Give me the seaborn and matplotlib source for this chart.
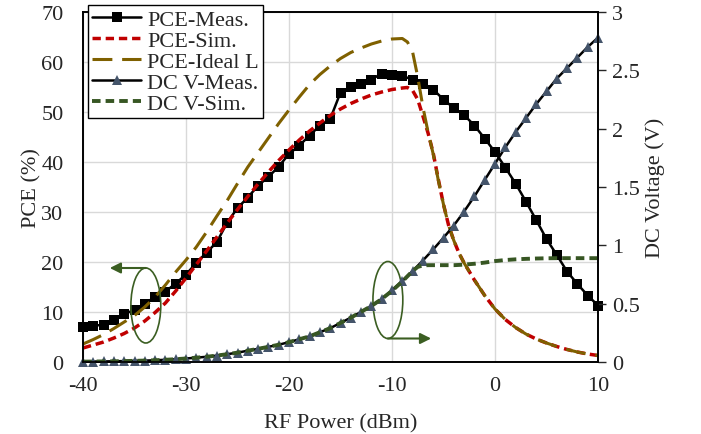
import numpy as np
import pandas as pd
import matplotlib
matplotlib.use("Agg")
import matplotlib.pyplot as plt
import seaborn as sns
from matplotlib.patches import Ellipse
from matplotlib.ticker import FuncFormatter, MultipleLocator

# ---------------- data ----------------
rf_meas = list(range(-40, 11))
pce_meas = [7.1, 7.3, 7.4, 8.5, 9.6, 10.4, 11.7, 13.0, 14.1, 15.7, 17.5,
            19.8, 21.9, 24.0, 27.9, 30.8, 32.9, 35.3, 37.0, 39.1, 41.6,
            43.3, 45.3, 47.3, 48.6, 53.9, 55.0, 55.7, 56.5, 57.7, 57.5,
            57.2, 56.5, 55.7, 54.5, 52.5, 50.8, 49.4, 47.3, 44.7, 42.0,
            38.9, 35.7, 32.1, 28.4, 24.6, 21.4, 18.1, 15.6, 13.3, 11.3]
dcv_meas = [0.003, 0.004, 0.005, 0.006, 0.008, 0.010, 0.012, 0.015, 0.019, 0.024, 0.030,
            0.037, 0.045, 0.055, 0.067, 0.080, 0.097, 0.113, 0.130, 0.148, 0.170,
            0.195, 0.220, 0.255, 0.290, 0.335, 0.380, 0.430, 0.480, 0.540, 0.615,
            0.695, 0.780, 0.870, 0.965, 1.065, 1.170, 1.290, 1.420, 1.560, 1.700,
            1.840, 1.970, 2.090, 2.210, 2.320, 2.430, 2.520, 2.610, 2.700, 2.780]

rf_sim = [-40, -39, -38, -37, -36, -35, -34, -33, -32, -31, -30, -29, -28, -27, -26,
          -25, -24, -23, -22, -21, -20, -19, -18, -17, -16, -15, -14, -13, -12, -11,
          -10, -9, -8.5, -8, -7.5, -7, -6.5, -6, -5.5, -5, -4.5, -4, -3.5, -3, -2,
          -1, 0, 1, 2, 3, 4, 5, 6, 7, 8, 9, 10]
pce_sim = [2.8, 3.4, 4.0, 4.8, 5.7, 6.8, 8.2, 9.9, 11.8, 14.2, 16.8, 19.5, 22.2, 25.0, 27.8,
           30.5, 33.1, 35.6, 38.0, 40.3, 42.4, 44.4, 46.2, 47.8, 49.3, 50.6, 51.7, 52.6, 53.4, 54.0,
           54.5, 54.8, 54.9, 54.3, 52.5, 49.2, 45.8, 41.8, 36.5, 31.5, 27.3, 24.3, 21.8, 19.8, 16.4,
           13.3, 10.6, 8.5, 6.9, 5.6, 4.6, 3.8, 3.1, 2.5, 2.0, 1.6, 1.3]
pce_ideal = [3.6, 4.5, 5.5, 6.7, 8.0, 9.3, 11.0, 13.0, 15.4, 18.0, 20.4, 23.0, 26.0, 29.2, 32.3,
             35.7, 39.0, 41.9, 44.8, 47.7, 50.4, 53.0, 55.5, 57.5, 59.2, 60.7, 61.9, 62.8, 63.6, 64.2,
             64.6, 64.7, 64.0, 62.0, 57.0, 51.0, 46.0, 41.6, 36.3, 31.5, 27.3, 24.3, 21.8, 19.8, 16.4,
             13.3, 10.6, 8.5, 6.9, 5.6, 4.6, 3.8, 3.1, 2.5, 2.0, 1.6, 1.3]
dcv_sim = [0.003, 0.004, 0.005, 0.006, 0.008, 0.010, 0.012, 0.015, 0.019, 0.024, 0.030, 0.037, 0.045, 0.055, 0.067,
           0.080, 0.097, 0.113, 0.130, 0.148, 0.170, 0.195, 0.220, 0.255, 0.290, 0.335, 0.380, 0.430, 0.480, 0.540,
           0.610, 0.690, 0.735, 0.780, 0.815, 0.828, 0.830, 0.830, 0.830, 0.830, 0.830, 0.830, 0.832, 0.835, 0.842,
           0.852, 0.865, 0.874, 0.880, 0.884, 0.887, 0.889, 0.890, 0.890, 0.890, 0.890, 0.890]

df_meas = pd.DataFrame({"rf": rf_meas, "pce": pce_meas, "v": dcv_meas})
df_sim = pd.DataFrame({"rf": rf_sim, "pce": pce_sim, "ideal": pce_ideal, "v": dcv_sim})

# ---------------- style ----------------
sns.set_style("white")
plt.rcParams["font.family"] = ["Liberation Serif", "DejaVu Serif"]
plt.rcParams["font.size"] = 16
plt.rcParams["axes.unicode_minus"] = False

fig = plt.figure(figsize=(7.01, 4.35), dpi=100)
ax = fig.add_axes([83/701, 1-363/435, (598-83)/701, (363-13)/435])
ax2 = ax.twinx()

RED = "#c00000"
OLIVE = "#7f6000"
GREEN = "#375623"
SLATE = "#44546a"

sns.lineplot(data=df_meas, x="rf", y="pce", ax=ax, color="black", lw=1.8,
             marker="s", markersize=7.5, markeredgewidth=0, clip_on=False,
             label="PCE-Meas.", legend=False)
sns.lineplot(data=df_sim, x="rf", y="pce", ax=ax, color=RED, lw=2.5,
             label="PCE-Sim.", legend=False)
ax.lines[-1].set_linestyle((0, (2.4, 1.4)))
sns.lineplot(data=df_sim, x="rf", y="ideal", ax=ax, color=OLIVE, lw=2.2,
             label="PCE-Ideal L", legend=False)
ax.lines[-1].set_linestyle((0, (6.5, 3.2)))

sns.lineplot(data=df_meas, x="rf", y="v", ax=ax2, color="black", lw=1.8,
             marker="^", markersize=7, markerfacecolor=SLATE, markeredgewidth=0,
             clip_on=False, label="DC V-Meas.", legend=False)
sns.lineplot(data=df_sim, x="rf", y="v", ax=ax2, color=GREEN, lw=2.8,
             label="DC V-Sim.", legend=False)
ax2.lines[-1].set_linestyle((0, (2.2, 1.3)))

# axes
ax.set_xlim(-40, 10)
ax.set_ylim(0, 70)
ax2.set_ylim(0, 3)
ax.xaxis.set_major_locator(MultipleLocator(10))
ax.yaxis.set_major_locator(MultipleLocator(10))
ax2.yaxis.set_major_locator(MultipleLocator(0.5))
ax2.yaxis.set_major_formatter(FuncFormatter(lambda v, p: f"{v:g}"))
ax.grid(True, color="#d9d9d9", lw=1.0)
ax.set_axisbelow(True)
for a in (ax, ax2):
    for s in a.spines.values():
        s.set_color("black")
        s.set_linewidth(1.2)
ax.tick_params(axis="x", length=0, labelsize=16, pad=10)
ax.tick_params(axis="y", length=0, labelsize=16, pad=14)
ax2.tick_params(axis="y", length=6, width=1.0, direction="out", labelsize=16, pad=4)
ax.set_xlabel("RF Power (dBm)", fontsize=16, labelpad=13)
ax.set_ylabel("PCE (%)", fontsize=16, labelpad=0)
ax2.set_ylabel("DC Voltage (V)", fontsize=16, labelpad=4)

# annotations: ellipses with arrows
ec = "#3b5e22"
ax.add_patch(Ellipse((-33.9, 11.3), 2.9, 15.0, fill=False, ec=ec, lw=1.2, zorder=5))
ax.annotate("", xy=(-37.4, 18.8), xytext=(-33.9, 18.8),
            arrowprops=dict(arrowstyle="-|>", color=ec, lw=1.5, mutation_scale=16,
                            shrinkA=0, shrinkB=0), zorder=5)
ax.add_patch(Ellipse((-10.4, 12.4), 2.9, 15.4, fill=False, ec=ec, lw=1.2, zorder=5))
ax.annotate("", xy=(-6.2, 4.7), xytext=(-10.4, 4.7),
            arrowprops=dict(arrowstyle="-|>", color=ec, lw=1.5, mutation_scale=16,
                            shrinkA=0, shrinkB=0), zorder=5)

# legend
h1, l1 = ax.get_legend_handles_labels()
h2, l2 = ax2.get_legend_handles_labels()
leg = ax2.legend(h1 + h2, l1 + l2, loc="upper left",
                 bbox_to_anchor=(88/701, 1-6/435), bbox_transform=fig.transFigure,
                 borderaxespad=0, fontsize=16, frameon=True, fancybox=False,
                 edgecolor="black", framealpha=1, labelspacing=0.02,
                 handlelength=2.2, handletextpad=0.25, borderpad=0.2, numpoints=1)
leg.get_frame().set_linewidth(1.0)

fig.savefig("out.png", dpi=100)
